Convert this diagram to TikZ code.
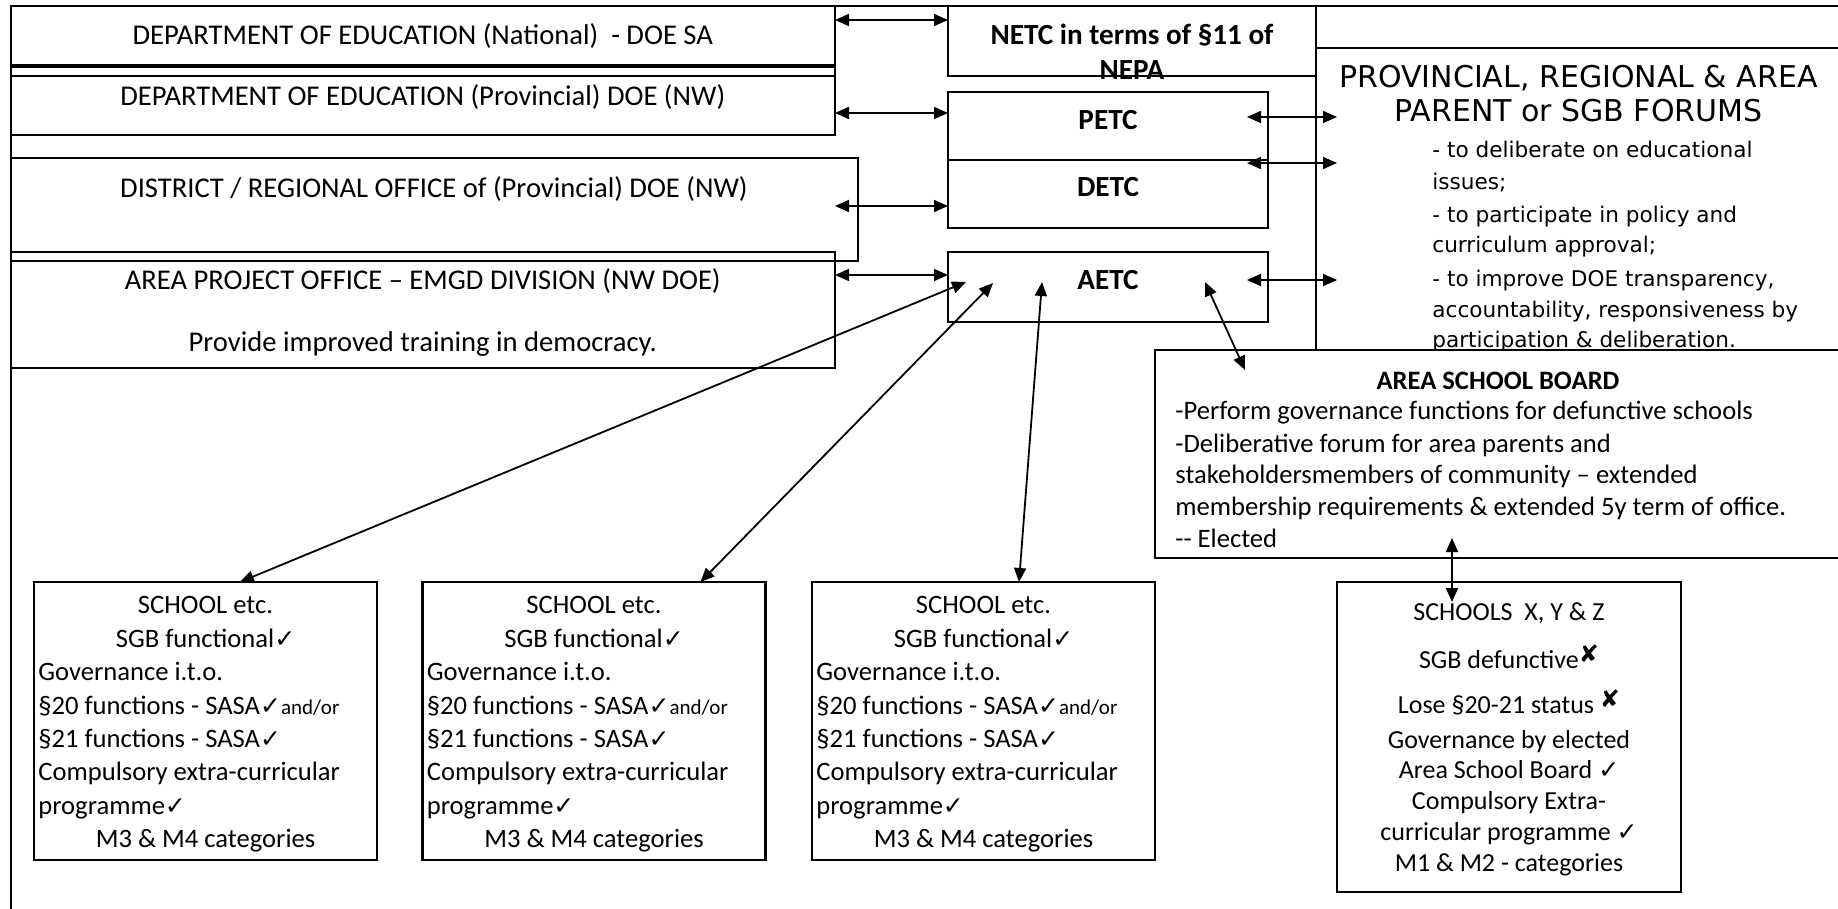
\documentclass[tikz,border=0pt]{standalone}
\usepackage{fontspec}
\setmainfont{Carlito}
\newfontfamily\vfont{DejaVu Sans}
\newfontfamily\symf{DejaVu Sans}
\usetikzlibrary{arrows.meta,fit,calc}
\newcommand\ck{{\symf\fontsize{12.5}{12.5}\selectfont ✓}}
\newcommand\xk{\raisebox{3pt}{\symf\fontsize{12}{12}\selectfont ✘}}
\begin{document}
\begin{tikzpicture}[x=0.5pt,y=-0.5pt,
  bx/.style={draw,line width=1.1pt,inner sep=0pt,outer sep=0pt},
  dbl/.style={{Triangle[length=7pt,width=6pt]}-{Triangle[length=7pt,width=6pt]},line width=0.9pt},
  t/.style={inner sep=0pt,font=\fontsize{13.3}{16}\selectfont},
  tc/.style={t,anchor=base},
  tl/.style={t,anchor=base west},
  td/.style={tc,font=\fontsize{14.3}{17}\selectfont},
  tx/.style={tc,font=\fontsize{13}{15}\selectfont},
  tb/.style={tc,font=\fontsize{14.6}{17}\selectfont\bfseries},
  tbb/.style={tc,font=\fontsize{13.3}{16}\selectfont\bfseries},
  vt/.style={inner sep=0pt,anchor=base,font=\vfont\fontsize{15}{18}\selectfont},
  vl/.style={inner sep=0pt,anchor=base west,font=\vfont\fontsize{10.8}{13}\selectfont}]
\clip (0,0) rectangle (1838,909);
% outer frame
\draw[line width=1.1pt] (10.6,915) -- (10.6,6) -- (1850,6);
% DOE boxes
\node[bx, fit={(10.6,6) (835,65)}] (doe1) {};
\node[bx, fit={(10.6,67) (835,135)}] (doe2) {};
\draw[line width=1.1pt] (10.6,76) -- (835,76);
\node[bx, fit={(10.6,158) (858,261)}] (doe3) {};
\node[bx, fit={(10.6,252) (835,368)}] (doe4) {};
\node[td] (doe1t) at (422.8,45) {DEPARTMENT OF EDUCATION (National)~~- DOE SA};
\node[td] (doe2t) at (422.8,106) {DEPARTMENT OF EDUCATION (Provincial) DOE (NW)};
\node[td] (doe3t) at (434,198) {DISTRICT / REGIONAL OFFICE of (Provincial) DOE (NW)};
\node[td] (doe4t) at (422.8,290) {AREA PROJECT OFFICE – EMGD DIVISION (NW DOE)};
\node[td] (doe4u) at (422.8,352) {Provide improved training in democracy.};
% ETC boxes
\node[tb] (netct) at (1132,45) {NETC in terms of §11 of};
\node[tb] (netcu) at (1132,80) {NEPA};
\node[bx, fit={(948,6) (1316,76)}] (netc) {};
\node[bx, fit={(948,92) (1268,160)}] (petc) {};
\node[bx, fit={(948,160) (1268,228)}] (detc) {};
\node[bx, fit={(948,252) (1268,322)}] (aetc) {};
\node[tb] (petct) at (1108,130) {PETC};
\node[tb] (detct) at (1108,197) {DETC};
\node[tb] (aetct) at (1108,290) {AETC};
% forum
\node[bx, fit={(1316,6) (1850,48)}] (topr) {};
\node[bx, fit={(1316,48) (1850,420)}] (forum) {};
\node[vt] (fo1) at (1578.5,88) {PROVINCIAL, REGIONAL \& AREA};
\node[vt] (fo2) at (1578.5,122) {PARENT or SGB FORUMS};
\node[vl] (fb1) at (1432,158) {- to deliberate on educational};
\node[vl] (fb2) at (1432,190) {issues;};
\node[vl] (fb3) at (1432,223) {- to participate in policy and};
\node[vl] (fb4) at (1432,253) {curriculum approval;};
\node[vl] (fb5) at (1432,287) {- to improve DOE transparency,};
\node[vl] (fb6) at (1432,318) {accountability, responsiveness by};
\node[vl] (fb7) at (1432,348) {participation \& deliberation.};
% area school board
\node[bx, fill=white, fit={(1155,350) (1850,558)}] (board) {};
\node[tbb] (bt) at (1498,390) {AREA SCHOOL BOARD};
\node[tl] (b1) at (1175,420) {-Perform governance functions for defunctive schools};
\node[tl] (b2) at (1175,452) {-Deliberative forum for area parents and};
\node[tl] (b3) at (1175,483) {stakeholdersmembers of community – extended};
\node[tl] (b4) at (1175,515) {membership requirements \& extended 5y term of office.};
\node[tl] (b5) at (1175,547) {-{}- Elected};
% schools X Y Z
\node[bx, fit={(1337,582) (1681,892)}] (xyz) {};
\node[tx] (x1) at (1509,620) {SCHOOLS~~X, Y \& Z};
\node[tx] (x2) at (1509,668) {SGB defunctive\xk};
\node[tx] (x3) at (1509,713) {Lose §20-21 status \xk};
\node[tx] (x4) at (1509,748) {Governance by elected};
\node[tx] (x5) at (1509,778) {Area School Board \ck};
\node[tx] (x6) at (1509,809) {Compulsory Extra-};
\node[tx] (x7) at (1509,840) {curricular programme \ck};
\node[tx] (x8) at (1509,871) {M1 \& M2 - categories};
% functional schools
\foreach \i/\L in {1/34,2/422.5,3/812}{
  \node[bx, fit={(\L,582) (\L+343,860)}] (school\i) {};
  \node[tc] (school\i a) at (\L+171.5,613) {SCHOOL etc.};
  \node[tc] (school\i b) at (\L+171.5,647) {SGB functional\ck};
  \node[tl] (school\i c) at (\L+4,680) {Governance i.t.o.};
  \node[tl] (school\i d) at (\L+4,714) {§20 functions - SASA\ck{\fontsize{10.5}{12}\selectfont and/or}};
  \node[tl] (school\i e) at (\L+4,747) {§21 functions - SASA\ck};
  \node[tl] (school\i f) at (\L+4,780) {Compulsory extra-curricular};
  \node[tl] (school\i g) at (\L+4,814) {programme\ck};
  \node[tc] (school\i h) at (\L+171.5,847) {M3 \& M4 categories};
}
% arrow end points inside boxes
\coordinate (d3a) at (835,206);
\coordinate (pe) at (1247,117);
\coordinate (de) at (1247,163);
\coordinate (ae) at (1247,280);
\coordinate (f1) at (1337,117);
\coordinate (f2) at (1337,163);
\coordinate (f3) at (1337,280);
\coordinate (a1) at (966,282);
\coordinate (a2) at (993,283);
\coordinate (a3) at (1042,282);
\coordinate (a4) at (1205,282);
\coordinate (bd) at (1245,370);
\coordinate (bb) at (1452,538);
\coordinate (xt) at (1452,602);
% connectors
\draw[dbl] (doe1.east |- 0,20) -- (netc.west |- 0,20);
\draw[dbl] (doe2.east |- 0,113) -- (petc.west |- 0,113);
\draw[dbl] (d3a) -- (detc.west |- d3a);
\draw[dbl] (doe4.east |- 0,275) -- (aetc.west |- 0,275);
\draw[dbl] (pe) -- (f1);
\draw[dbl] (de) -- (f2);
\draw[dbl] (ae) -- (f3);
\draw[dbl] (a1) -- ($(school1.north)+(34.5,0)$);
\draw[dbl] (a2) -- ($(school2.north)+(106.5,0)$);
\draw[dbl] (a3) -- ($(school3.north)+(35.5,0)$);
\draw[dbl] (a4) -- (bd);
\draw[dbl] (bb) -- (xt);
\end{tikzpicture}
\end{document}
